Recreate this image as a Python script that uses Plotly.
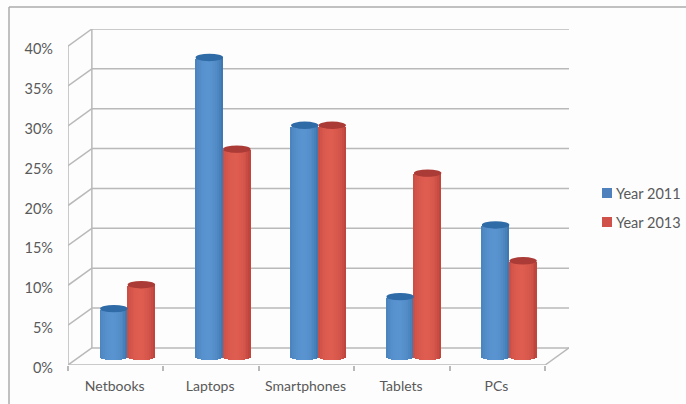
import numpy as np
import plotly.graph_objects as go

categories = ["Netbooks", "Laptops", "Smartphones", "Tablets", "PCs"]
year_2011 = [6, 37.5, 29, 7.5, 16.5]
year_2013 = [9, 26, 29, 23, 12]
y_ticks = [0, 5, 10, 15, 20, 25, 30, 35, 40]

# Oblique projection of the chart box, in axis units
DEPTH_X = 0.25
DEPTH_Y = 2.14
BAR_WIDTH = 0.288
CAP_RADIUS = 0.46
STRIPS = 15
X_MAX = len(categories) + DEPTH_X

# Page layout in pixels
WIDTH, HEIGHT = 686, 404
LEFT, TOP, BOTTOM = 68, 29, 39
PLOT_W = WIDTH - LEFT
PLOT_H = HEIGHT - TOP - BOTTOM
AXIS_W = 501

# Edge, body and highlight colours of each cylinder
BLUE = dict(edge=(56, 112, 168), mid=(90, 148, 208), cap="#2f6ba6", flat="#4f81bd")
RED = dict(edge=(182, 62, 56), mid=(222, 92, 80), cap="#ab3b36", flat="#d0504a")


def paper_x(px):
    return (px - LEFT) / PLOT_W


def paper_y(py):
    return (HEIGHT - BOTTOM - py) / PLOT_H


def shade(style, t):
    k = np.clip(1 - ((t + 0.1) / 1.1) ** 2, 0, 1) ** 0.7
    rgb = [round(e + (m - e) * k) for e, m in zip(style["edge"], style["mid"])]
    return "rgb({},{},{})".format(*rgb)


def cylinder_traces(name, values, side, style):
    centres = [i + 0.5 + DEPTH_X / 2 + side * BAR_WIDTH / 2 for i in range(len(values))]
    floor = DEPTH_Y / 2
    traces = [go.Bar(name=name, x=centres, y=values, base=floor,
                     width=BAR_WIDTH * 0.96, marker=dict(color=style["flat"], line_width=0))]
    xs, heights, bases, colours = [], [], [], []
    step = 2 / STRIPS
    for cx, value in zip(centres, values):
        for t in np.linspace(-1 + step / 2, 1 - step / 2, STRIPS):
            rim = CAP_RADIUS * np.sqrt(1 - t ** 2)
            xs.append(cx + t * BAR_WIDTH / 2)
            heights.append(value)
            bases.append(floor - rim)
            colours.append(shade(style, t))
    traces.append(go.Bar(x=xs, y=heights, base=bases, width=BAR_WIDTH / STRIPS * 1.05,
                         marker=dict(color=colours, line_width=0), hoverinfo="skip"))
    caps = [dict(type="circle", xref="x", yref="y", layer="above",
                 x0=cx - BAR_WIDTH / 2, x1=cx + BAR_WIDTH / 2,
                 y0=floor + v - CAP_RADIUS, y1=floor + v + CAP_RADIUS,
                 fillcolor=style["cap"], line_width=0)
            for cx, v in zip(centres, values)]
    return traces, caps


def line(x0, y0, x1, y1):
    return dict(type="line", xref="x", yref="y", layer="below", x0=x0, y0=y0, x1=x1, y1=y1,
                line=dict(color="#b9b9b9", width=1.5))


fig = go.Figure()
shapes = []
annotations = []
grey = "#595959"
for name, values, side, style, key_y in (("Year 2011", year_2011, -1, BLUE, 193),
                                         ("Year 2013", year_2013, 1, RED, 222)):
    traces, caps = cylinder_traces(name, values, side, style)
    fig.add_traces(traces)
    shapes += caps
    # Legend key and label beside the axes
    shapes.append(dict(type="rect", xref="paper", yref="paper", layer="above",
                       x0=paper_x(602), x1=paper_x(612),
                       y0=paper_y(key_y + 5), y1=paper_y(key_y - 5),
                       fillcolor=style["flat"], line_width=0))
    annotations.append(dict(text=name, xref="paper", yref="paper", showarrow=False,
                            x=paper_x(614), y=paper_y(key_y), xanchor="left", yanchor="middle",
                            font=dict(size=14.5, color=grey)))

# Back wall gridlines with their slanted links to the front axis
for level in y_ticks:
    shapes.append(line(0, level, DEPTH_X, level + DEPTH_Y))
    shapes.append(line(DEPTH_X, level + DEPTH_Y, X_MAX, level + DEPTH_Y))
shapes.append(line(0, 0, 0, y_ticks[-1]))
shapes.append(line(DEPTH_X, DEPTH_Y, DEPTH_X, y_ticks[-1] + DEPTH_Y))
shapes.append(line(0, 0, len(categories), 0))
shapes.append(line(len(categories), 0, X_MAX, DEPTH_Y))

# Chart frame: only its top and left edges fall on the page
for x0, y0, x1, y1 in ((9, 7, WIDTH, 7), (9, 7, 9, HEIGHT)):
    shapes.append(dict(type="line", xref="paper", yref="paper", layer="below",
                       x0=paper_x(x0), y0=paper_y(y0), x1=paper_x(x1), y1=paper_y(y1),
                       line=dict(color="#ababab", width=1.5)))

fig.update_layout(
    width=WIDTH, height=HEIGHT, autosize=False,
    margin=dict(l=LEFT, r=0, t=TOP, b=BOTTOM),
    paper_bgcolor="#fdfdfd", plot_bgcolor="rgba(0,0,0,0)",
    font=dict(family="Lato, Open Sans, sans-serif", size=14, color=grey),
    barmode="overlay", bargap=0, showlegend=False, shapes=shapes, annotations=annotations,
    xaxis=dict(domain=[0, AXIS_W / PLOT_W], range=[0, X_MAX], tickmode="array",
               tickvals=[i + 0.5 for i in range(len(categories))], ticktext=categories,
               ticks="", showgrid=False, zeroline=False, showline=False,
               ticklabelstandoff=11, ticklabelshift=-1, tickfont=dict(size=14, color=grey),
               minor=dict(tickmode="array", tickvals=list(range(len(categories) + 1)),
                          ticks="outside", ticklen=5, tickcolor="#b9b9b9", tickwidth=1.5)),
    yaxis=dict(range=[0, y_ticks[-1] + DEPTH_Y], tickmode="array", tickvals=y_ticks,
               ticktext=[f"{v}%" for v in y_ticks], ticks="", showgrid=False,
               zeroline=False, showline=False, ticklabelstandoff=14, ticklabelshift=3,
               tickfont=dict(size=14.5, color=grey)),
)

fig.write_html("out.html")
